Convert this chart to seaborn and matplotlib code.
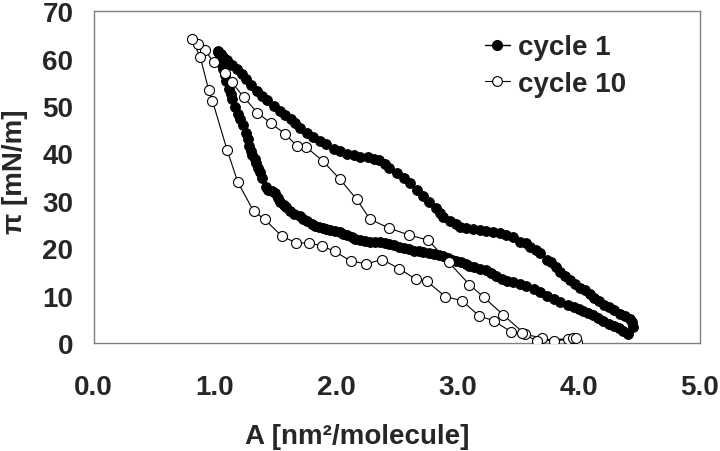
import numpy as np
import pandas as pd
import matplotlib
matplotlib.use("Agg")
import matplotlib.pyplot as plt
from matplotlib.lines import Line2D
import seaborn as sns

# cycle 1: compression (right -> left) then expansion (left -> right)
c1_comp_A = [4.45, 4.44, 4.42, 4.38, 4.34, 4.29, 4.25, 4.21, 4.17, 4.13, 4.09, 4.05, 4.01,
             3.97, 3.93, 3.89, 3.85, 3.81, 3.77, 3.74, 3.68, 3.65, 3.60, 3.57, 3.52, 3.46,
             3.40, 3.35, 3.29, 3.24, 3.19, 3.13, 3.07, 3.02, 2.99, 2.94, 2.88, 2.86, 2.82,
             2.77, 2.72, 2.67, 2.61, 2.56, 2.50, 2.44, 2.40, 2.35, 2.31, 2.26, 2.20, 2.15,
             2.09, 2.03, 1.98, 1.92, 1.87, 1.81, 1.76, 1.70, 1.66, 1.63, 1.58, 1.54, 1.49,
             1.43, 1.39, 1.35, 1.30, 1.26, 1.22, 1.18, 1.14, 1.10, 1.07, 1.05, 1.03]
c1_comp_pi = [3.3, 4.4, 5.0, 5.6, 6.2, 6.9, 7.5, 8.1, 8.8, 9.5, 10.3, 11.1, 11.7,
              12.4, 13.2, 14.1, 14.9, 16.0, 17.0, 17.6, 18.9, 19.6, 20.3, 21.0, 21.4, 22.3,
              22.8, 23.2, 23.5, 23.7, 23.8, 24.1, 24.2, 24.5, 25.0, 25.8, 26.6, 27.4, 28.5,
              29.8, 31.0, 32.3, 33.7, 34.8, 35.8, 37.0, 37.8, 38.5, 38.9, 39.2, 39.3, 39.6,
              39.9, 40.4, 41.0, 41.9, 42.6, 43.4, 44.3, 45.3, 46.5, 47.3, 48.2, 49.0, 50.0,
              51.2, 52.2, 53.2, 54.5, 55.6, 56.8, 57.8, 58.7, 59.6, 60.3, 61.0, 61.5]
c1_exp_A = [1.03, 1.04, 1.05, 1.07, 1.08, 1.09, 1.12, 1.13, 1.14, 1.17, 1.19, 1.21, 1.23,
            1.26, 1.27, 1.28, 1.30, 1.31, 1.33, 1.34, 1.36, 1.37, 1.39, 1.42, 1.44, 1.47,
            1.50, 1.52, 1.54, 1.57, 1.59, 1.62, 1.65, 1.70, 1.73, 1.76, 1.80, 1.83, 1.86,
            1.89, 1.92, 1.95, 1.99, 2.03, 2.06, 2.09, 2.13, 2.16, 2.20, 2.24, 2.28, 2.32,
            2.36, 2.40, 2.44, 2.48, 2.52, 2.56, 2.60, 2.64, 2.68, 2.72, 2.77, 2.81, 2.85,
            2.88, 2.92, 2.96, 2.99, 3.03, 3.07, 3.10, 3.14, 3.19, 3.24, 3.28, 3.32, 3.37,
            3.41, 3.46, 3.52, 3.57, 3.63, 3.68, 3.74, 3.80, 3.85, 3.91, 3.96, 4.00, 4.04,
            4.08, 4.12, 4.16, 4.20, 4.25, 4.29, 4.33, 4.37, 4.41]
c1_exp_pi = [61.3, 60.2, 59.0, 57.8, 56.5, 55.3, 53.6, 52.5, 51.4, 49.8, 48.3, 47.2, 46.0,
             44.2, 43.0, 41.6, 40.6, 39.7, 38.8, 38.0, 37.0, 36.0, 34.9, 33.0, 32.3, 32.0,
             31.6, 30.6, 29.7, 29.1, 28.6, 27.9, 27.2, 26.8, 26.2, 25.8, 25.2, 24.7, 24.5,
             24.3, 24.0, 23.8, 23.6, 23.5, 23.0, 22.8, 22.4, 22.0, 21.8, 21.6, 21.4, 21.4,
             21.3, 21.0, 20.8, 20.6, 20.3, 20.1, 19.8, 19.5, 19.3, 19.2, 19.0, 18.8, 18.5,
             18.3, 17.9, 17.6, 17.3, 17.0, 16.6, 16.2, 16.0, 15.7, 15.3, 14.7, 14.1, 13.6,
             13.1, 12.8, 12.4, 12.0, 11.4, 10.7, 10.0, 9.3, 8.6, 8.0, 7.5, 7.1, 6.8,
             6.3, 5.8, 5.2, 4.7, 4.1, 3.6, 3.1, 2.6, 1.9]

# cycle 10
c10_comp_A = [3.99, 3.91, 3.80, 3.70, 3.56, 3.38, 3.22, 3.10, 2.93, 2.76, 2.60, 2.44, 2.28,
              2.17, 2.03, 1.89, 1.75, 1.68, 1.58, 1.46, 1.35, 1.24, 1.14, 1.08, 0.99, 0.92,
              0.86, 0.81]
c10_comp_pi = [0.2, 0.85, 0.35, 1.05, 1.8, 5.9, 9.6, 12.3, 17.0, 21.7, 22.8, 24.2, 26.1,
               30.3, 34.6, 38.4, 41.4, 41.5, 44.1, 46.4, 48.6, 51.8, 55.0, 56.9, 59.2, 61.8,
               63.1, 64.2]
c10_exp_A = [0.88, 0.95, 0.98, 1.10, 1.19, 1.32, 1.41, 1.55, 1.67, 1.78, 1.88, 1.99, 2.12,
             2.25, 2.38, 2.52, 2.66, 2.75, 2.90, 3.04, 3.18, 3.30, 3.44, 3.53, 3.66, 3.95,
             3.98]
c10_exp_pi = [60.3, 53.3, 51.1, 40.8, 33.9, 27.8, 26.1, 22.6, 21.1, 21.1, 20.5, 19.3, 17.3,
              16.7, 17.6, 15.7, 13.4, 13.0, 9.8, 8.9, 5.7, 4.7, 2.4, 2.1, 0.4, 1.0,
              1.1]

cyc1 = pd.DataFrame({"A": c1_comp_A + c1_exp_A, "pi": c1_comp_pi + c1_exp_pi})
cyc10 = pd.DataFrame({"A": c10_comp_A + c10_exp_A, "pi": c10_comp_pi + c10_exp_pi})

sns.set_style("white")
plt.rcParams["font.family"] = ["Liberation Sans", "DejaVu Sans"]
plt.rcParams["font.weight"] = "bold"

fig = plt.figure(figsize=(7.2, 4.52), dpi=100)
ax = fig.add_axes([0.13, 0.239, 0.842, 0.734])

sns.lineplot(data=cyc1, x="A", y="pi", sort=False, estimator=None, ax=ax,
             color="black", lw=1, marker="o", markersize=7,
             markerfacecolor="black", markeredgecolor="black", zorder=2)
sns.lineplot(data=cyc10, x="A", y="pi", sort=False, estimator=None, ax=ax,
             color="black", lw=0.8, marker="o", markersize=7.2,
             markerfacecolor="white", markeredgecolor="black", markeredgewidth=0.8,
             zorder=3)

ax.set_xlim(0, 5)
ax.set_ylim(0, 70)
ax.set_xticks(np.arange(0, 5.01, 1))
ax.set_xticks(np.arange(0.5, 5, 1), minor=True)
ax.set_xticklabels(["0.0", "1.0", "2.0", "3.0", "4.0", "5.0"])
ax.set_yticks(np.arange(0, 71, 10))
ax.set_yticks(np.arange(5, 70, 10), minor=True)

for s in ax.spines.values():
    s.set_color("#808080")
    s.set_linewidth(1)
ax.tick_params(which="both", direction="out", color="#808080", width=1, length=5.5)
ax.tick_params(axis="x", which="major", labelsize=20, pad=17)
ax.tick_params(axis="y", which="major", labelsize=20, pad=9)

ax.set_xlabel("A [nm²/molecule]", fontsize=20, fontweight="bold")
ax.set_ylabel("π [mN/m]", fontsize=20, fontweight="bold")
ax.xaxis.set_label_coords(0.434, -0.24)
ax.yaxis.set_label_coords(-0.108, 0.52)

handles = [
    Line2D([], [], color="black", lw=1, marker="o", markersize=7,
           markerfacecolor="black", markeredgecolor="black"),
    Line2D([], [], color="black", lw=0.8, marker="o", markersize=7,
           markerfacecolor="white", markeredgecolor="black", markeredgewidth=0.8),
]
ax.legend(handles, ["cycle 1", "cycle 10"], loc="upper left",
          bbox_to_anchor=(0.645, 0.93), frameon=False, borderpad=0,
          borderaxespad=0, handlelength=0.9, handletextpad=0.3,
          labelspacing=0.38, prop={"size": 20, "weight": "bold"})

fig.savefig("out.png", dpi=100)
